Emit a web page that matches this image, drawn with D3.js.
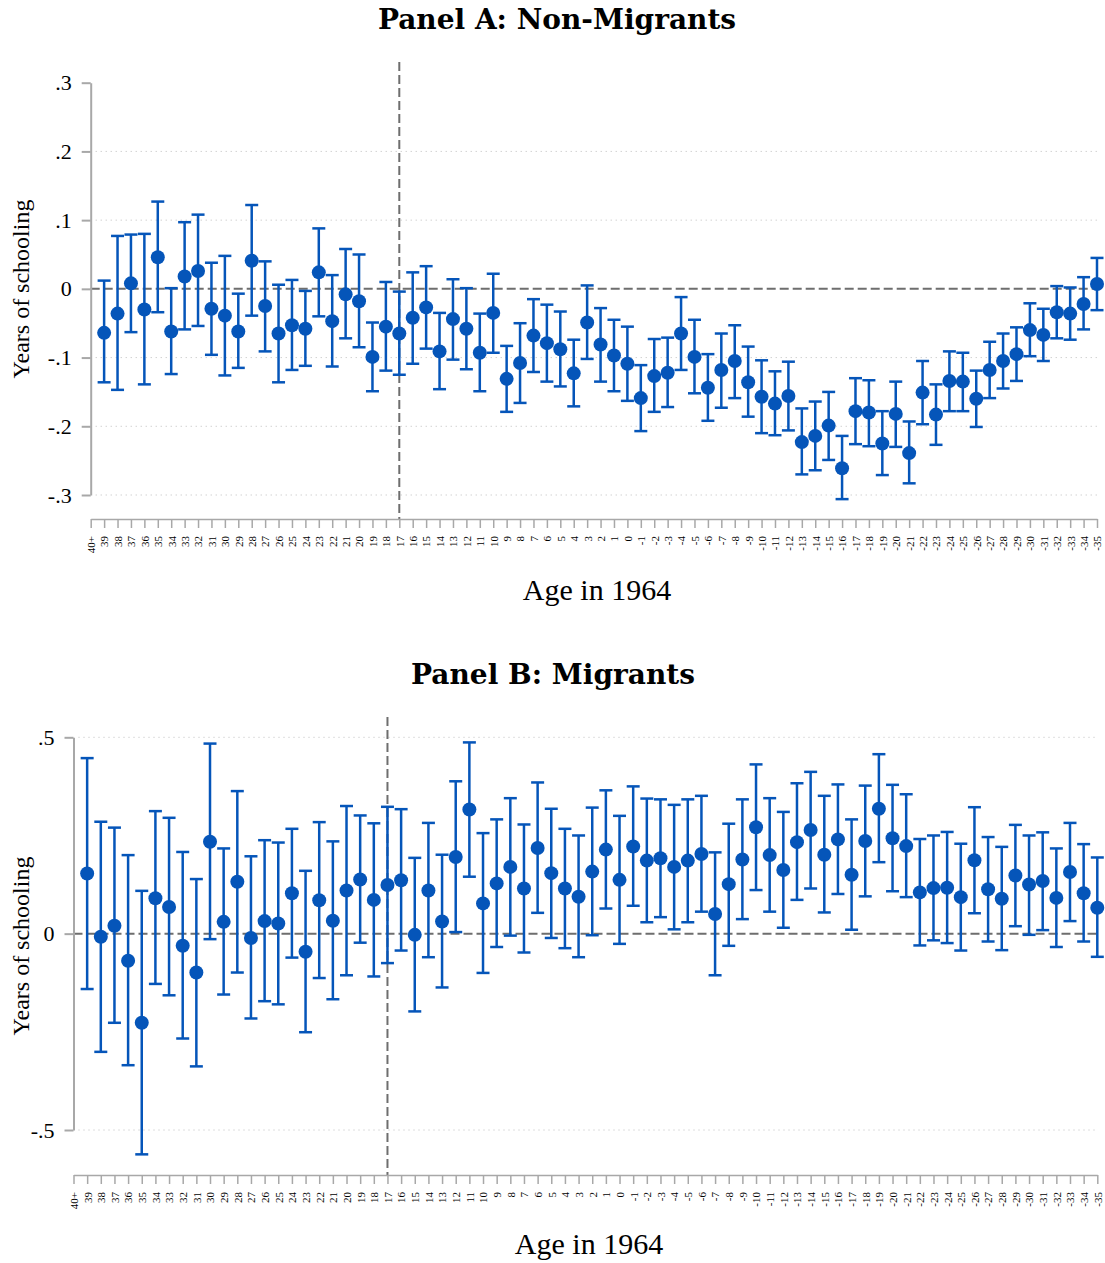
<!DOCTYPE html>
<html>
<head>
<meta charset="utf-8">
<script src="https://cdn.jsdelivr.net/npm/d3@7"></script>
<style>
  body { margin: 0; background: #fff; }
  svg { display: block; }
</style>
</head>
<body>
<div id="chart"></div>
<script>
// age in 1964, 40+ is the omitted group (no estimate)
var ages = ["40+","39","38","37","36","35","34","33","32","31","30","29","28","27","26","25","24","23","22","21","20",
  "19","18","17","16","15","14","13","12","11","10","9","8","7","6","5","4","3","2","1","0",
  "-1","-2","-3","-4","-5","-6","-7","-8","-9","-10","-11","-12","-13","-14","-15","-16","-17","-18","-19","-20",
  "-21","-22","-23","-24","-25","-26","-27","-28","-29","-30","-31","-32","-33","-34","-35"];

// Panel A: non-migrants
var coefA = [null,-0.064,-0.036,0.008,-0.030,0.046,-0.062,0.018,0.026,-0.029,-0.039,-0.062,0.041,-0.025,-0.065,-0.053,-0.058,0.024,-0.047,-0.008,-0.018,
  -0.099,-0.055,-0.065,-0.042,-0.027,-0.091,-0.044,-0.058,-0.093,-0.035,-0.131,-0.108,-0.068,-0.079,-0.088,-0.123,-0.049,-0.081,-0.097,-0.109,
  -0.159,-0.127,-0.122,-0.065,-0.099,-0.144,-0.118,-0.105,-0.136,-0.157,-0.167,-0.156,-0.223,-0.214,-0.199,-0.261,-0.178,-0.180,-0.225,-0.182,
  -0.239,-0.151,-0.183,-0.134,-0.135,-0.160,-0.118,-0.105,-0.095,-0.060,-0.067,-0.034,-0.036,-0.022,0.007];
var hiA = [null,0.012,0.077,0.079,0.080,0.127,0.001,0.097,0.108,0.038,0.048,-0.007,0.122,0.040,0.006,0.013,-0.003,0.088,0.020,0.058,0.050,
  -0.049,0.010,-0.004,0.024,0.033,-0.035,0.014,0.001,-0.036,0.022,-0.083,-0.050,-0.015,-0.023,-0.033,-0.074,0.005,-0.028,-0.045,-0.055,
  -0.111,-0.073,-0.071,-0.012,-0.045,-0.095,-0.065,-0.053,-0.084,-0.104,-0.120,-0.106,-0.174,-0.164,-0.150,-0.214,-0.130,-0.133,-0.178,-0.135,
  -0.193,-0.105,-0.139,-0.091,-0.093,-0.119,-0.077,-0.065,-0.056,-0.021,-0.029,0.004,0.002,0.017,0.045];
var loA = [null,-0.136,-0.147,-0.063,-0.139,-0.034,-0.124,-0.059,-0.054,-0.096,-0.126,-0.115,-0.039,-0.091,-0.136,-0.118,-0.112,-0.040,-0.113,-0.072,-0.085,
  -0.149,-0.119,-0.125,-0.109,-0.087,-0.146,-0.103,-0.117,-0.149,-0.093,-0.179,-0.166,-0.121,-0.135,-0.142,-0.171,-0.102,-0.135,-0.149,-0.163,
  -0.207,-0.179,-0.172,-0.118,-0.152,-0.192,-0.173,-0.159,-0.186,-0.210,-0.213,-0.206,-0.270,-0.264,-0.249,-0.306,-0.226,-0.229,-0.271,-0.230,
  -0.283,-0.197,-0.227,-0.178,-0.178,-0.201,-0.159,-0.145,-0.134,-0.098,-0.105,-0.072,-0.074,-0.059,-0.031];

// Panel B: migrants
var coefB = [null,0.153,-0.008,0.020,-0.069,-0.227,0.090,0.068,-0.031,-0.099,0.234,0.030,0.132,-0.011,0.032,0.026,0.103,-0.046,0.085,0.033,0.110,
  0.138,0.086,0.124,0.136,-0.003,0.110,0.031,0.195,0.316,0.077,0.128,0.170,0.115,0.218,0.154,0.115,0.094,0.158,0.214,0.137,
  0.222,0.186,0.192,0.170,0.186,0.203,0.050,0.126,0.189,0.271,0.200,0.162,0.233,0.264,0.201,0.240,0.150,0.236,0.318,0.243,
  0.223,0.105,0.116,0.117,0.093,0.187,0.113,0.089,0.148,0.125,0.134,0.091,0.157,0.103,0.066];
var hiB = [null,0.447,0.285,0.270,0.200,0.109,0.312,0.295,0.208,0.139,0.484,0.217,0.363,0.197,0.238,0.232,0.267,0.160,0.284,0.235,0.325,
  0.301,0.281,0.323,0.317,0.193,0.282,0.201,0.388,0.487,0.256,0.291,0.345,0.278,0.385,0.318,0.267,0.250,0.321,0.365,0.300,
  0.375,0.344,0.342,0.328,0.342,0.351,0.207,0.280,0.342,0.431,0.345,0.310,0.383,0.412,0.351,0.380,0.291,0.377,0.457,0.379,
  0.355,0.241,0.250,0.259,0.229,0.322,0.246,0.221,0.277,0.250,0.258,0.217,0.282,0.228,0.194];
var loB = [null,-0.141,-0.301,-0.227,-0.335,-0.562,-0.128,-0.157,-0.267,-0.338,-0.014,-0.155,-0.099,-0.216,-0.172,-0.180,-0.061,-0.251,-0.113,-0.167,-0.106,
  -0.023,-0.109,-0.075,-0.043,-0.198,-0.060,-0.137,0.004,0.145,-0.100,-0.034,-0.005,-0.048,0.053,-0.011,-0.037,-0.060,-0.004,0.064,-0.026,
  0.071,0.029,0.042,0.011,0.029,0.056,-0.106,-0.031,0.037,0.111,0.056,0.015,0.086,0.115,0.054,0.101,0.010,0.095,0.182,0.108,
  0.093,-0.030,-0.017,-0.024,-0.043,0.052,-0.020,-0.042,0.019,-0.003,0.009,-0.034,0.032,-0.020,-0.059];

var ticksA = [-0.3, -0.2, -0.1, 0, 0.1, 0.2, 0.3];
var ticksB = [-0.5, 0, 0.5];

var blue = '#0555b9';
var axisGray = '#a8a8a8';
var refGray = '#6e6e6e';
var serif = '"Liberation Serif", "Times New Roman", serif';

var svg = d3.select('#chart').append('svg')
    .attr('width', 1105)
    .attr('height', 1263);

// stata style numbers: .3, -.1, 0
function fmt(v) {
    if (v === 0) return '0';
    return (v < 0 ? '-' : '') + String(Math.abs(v)).replace(/^0/, '');
}

function drawPanel(p) {
    var g = svg.append('g');

    var x = d3.scalePoint().domain(ages).range([p.x0, p.x1]);
    var y = d3.scaleLinear().domain(p.yDomain).range([p.yBottom, p.yTop]);

    var rows = ages.map(function(a, i) {
        return { age: a, b: p.coef[i], lo: p.lo[i], hi: p.hi[i] };
    }).filter(function(d) { return d.b !== null; });

    // title
    g.append('text')
        .attr('x', p.titleX)
        .attr('y', p.titleY)
        .attr('text-anchor', 'middle')
        .style('font-family', '"DejaVu Serif", serif')
        .style('font-weight', 'bold')
        .style('font-size', '28px')
        .text(p.title);

    // dotted grid
    g.selectAll('.grid').data(p.grid).enter().append('line')
        .attr('x1', p.x0 + 5).attr('x2', p.x1)
        .attr('y1', function(d) { return y(d); })
        .attr('y2', function(d) { return y(d); })
        .attr('stroke', '#bdbdbd')
        .attr('stroke-width', 1)
        .attr('stroke-dasharray', '1,4');

    // reference lines
    g.append('line')
        .attr('x1', p.x0).attr('x2', p.x1)
        .attr('y1', y(0)).attr('y2', y(0))
        .attr('stroke', refGray).attr('stroke-width', 2)
        .attr('stroke-dasharray', '9,4');
    g.append('line')
        .attr('x1', x('17')).attr('x2', x('17'))
        .attr('y1', p.vTop).attr('y2', p.xAxisY)
        .attr('stroke', refGray).attr('stroke-width', 2)
        .attr('stroke-dasharray', '9,4');

    // y axis
    var yAxis = g.append('g')
        .attr('transform', 'translate(' + p.x0 + ',0)')
        .call(d3.axisLeft(y).tickValues(p.ticks).tickFormat(fmt).tickSize(9).tickSizeOuter(0).tickPadding(10))
        .attr('font-family', serif);
    yAxis.selectAll('path, line').attr('stroke', axisGray).attr('stroke-width', 2);
    yAxis.selectAll('text')
        .style('font-family', serif)
        .style('font-size', '22px')
        .attr('fill', '#000');

    // x axis
    var xAxis = g.append('g')
        .attr('transform', 'translate(0,' + p.xAxisY + ')')
        .call(d3.axisBottom(x).tickSize(9).tickSizeOuter(0))
        .attr('font-family', serif);
    xAxis.selectAll('path, line').attr('stroke', axisGray).attr('stroke-width', 1.5);
    xAxis.selectAll('text')
        .attr('transform', 'rotate(-90)')
        .attr('text-anchor', 'end')
        .attr('x', -17)
        .attr('y', 0)
        .attr('dy', '0.35em')
        .style('font-family', serif)
        .style('font-size', '11px')
        .attr('fill', '#000');

    // axis titles
    g.append('text')
        .attr('transform', 'translate(' + p.yTitleX + ',' + p.yTitleY + ') rotate(-90)')
        .attr('text-anchor', 'middle')
        .style('font-family', serif)
        .style('font-size', '24px')
        .text('Years of schooling');
    g.append('text')
        .attr('x', p.xTitleX)
        .attr('y', p.xTitleY)
        .attr('text-anchor', 'middle')
        .style('font-family', serif)
        .style('font-size', '30px')
        .text('Age in 1964');

    // error bars + caps
    var bars = g.selectAll('.ci').data(rows).enter().append('g')
        .attr('stroke', blue)
        .attr('stroke-width', 2.5);
    bars.append('line')
        .attr('x1', function(d) { return x(d.age); })
        .attr('x2', function(d) { return x(d.age); })
        .attr('y1', function(d) { return y(d.lo); })
        .attr('y2', function(d) { return y(d.hi); });
    bars.append('line')
        .attr('x1', function(d) { return x(d.age) - 6.5; })
        .attr('x2', function(d) { return x(d.age) + 6.5; })
        .attr('y1', function(d) { return y(d.hi); })
        .attr('y2', function(d) { return y(d.hi); });
    bars.append('line')
        .attr('x1', function(d) { return x(d.age) - 6.5; })
        .attr('x2', function(d) { return x(d.age) + 6.5; })
        .attr('y1', function(d) { return y(d.lo); })
        .attr('y2', function(d) { return y(d.lo); });

    g.selectAll('.pt').data(rows).enter().append('circle')
        .attr('cx', function(d) { return x(d.age); })
        .attr('cy', function(d) { return y(d.b); })
        .attr('r', 7)
        .attr('fill', blue);
}

drawPanel({
    title: 'Panel A: Non-Migrants', titleX: 557, titleY: 29,
    coef: coefA, lo: loA, hi: hiA,
    x0: 90.7, x1: 1097,
    yDomain: [-0.3, 0.3], yBottom: 495, yTop: 82.7,
    ticks: ticksA, grid: [-0.3, -0.2, -0.1, 0.1, 0.2],
    xAxisY: 519, vTop: 62,
    yTitleX: 29, yTitleY: 289,
    xTitleX: 597, xTitleY: 600
});

drawPanel({
    title: 'Panel B: Migrants', titleX: 553, titleY: 684,
    coef: coefB, lo: loB, hi: hiB,
    x0: 73.5, x1: 1097.3,
    yDomain: [-0.5, 0.5], yBottom: 1130, yTop: 737.3,
    ticks: ticksB, grid: [-0.5, 0.5],
    xAxisY: 1175, vTop: 717,
    yTitleX: 29, yTitleY: 946,
    xTitleX: 589, xTitleY: 1254
});
</script>
</body>
</html>
